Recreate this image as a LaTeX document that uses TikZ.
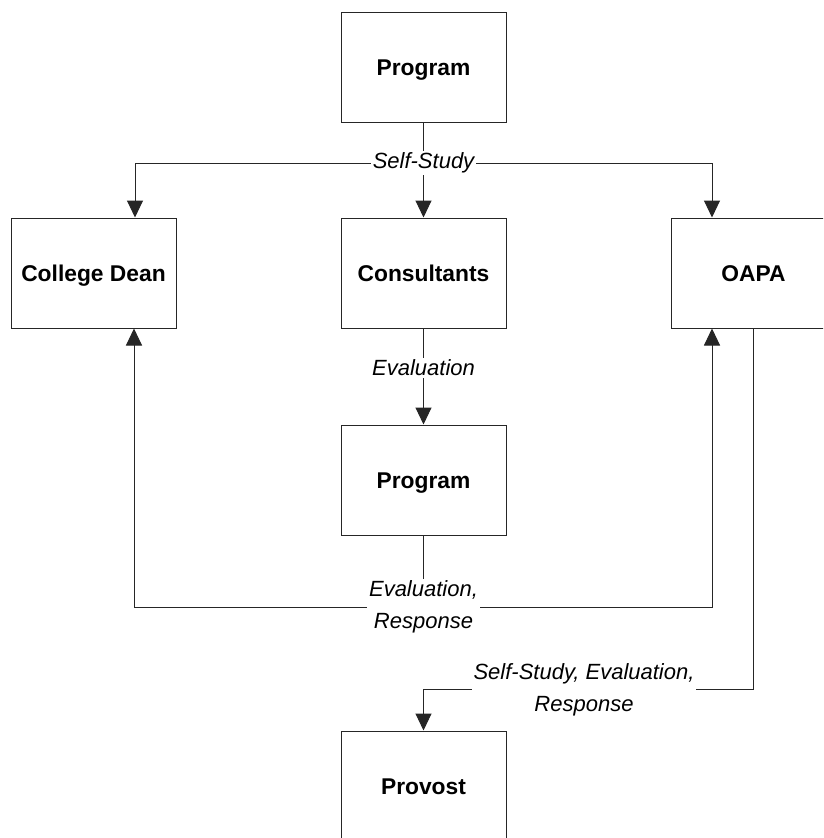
\documentclass[tikz,border=0pt]{standalone}
\usepackage{fontspec}
\setmainfont{Liberation Sans}
\usetikzlibrary{arrows.meta}
\begin{document}
\begin{tikzpicture}[x=1pt,y=-1pt,
  unit/.style={draw=black!85, line width=1pt, minimum width=165pt, minimum height=110pt,
    inner sep=0pt, text height=16.4pt, text depth=0pt,
    font=\fontsize{22.8}{27}\selectfont\bfseries},
  flow/.style={draw=black!85, line width=1pt},
  arr/.style={flow, -{Triangle[length=17pt,width=16pt]}},
  tag/.style={fill=white, inner sep=2pt, align=center,
    font=\fontsize{22}{32}\selectfont\itshape}]
\clip (0,0) rectangle (823,838);
\fill[white] (0,0) rectangle (823,838);

% units
\node[unit] (prog1)   at (423.5,67)  {Program};
\node[unit] (dean)    at (93.5,273)  {College Dean};
\node[unit] (cons)    at (423.5,273) {Consultants};
\node[unit] (oapa)    at (753.5,273) {OAPA};
\node[unit] (prog2)   at (423.5,480) {Program};
\node[unit] (provost) at (423.5,786) {Provost};

% self-study distribution
\coordinate (ss) at (423.5,163);
\draw[flow] (prog1.south) -- (ss);
\draw[arr] (ss) -| ([xshift=41.5pt]dean.north);
\draw[arr] (ss) -- (cons.north);
\draw[arr] (ss) -| ([xshift=-41.5pt]oapa.north);

% consultants' evaluation
\draw[arr] (cons.south) -- (prog2.north);

% evaluation and response
\coordinate (er) at (423.5,607);
\draw[flow] (prog2.south) -- (er);
\draw[arr] (er) -| ([xshift=40.5pt]dean.south);
\draw[arr] (er) -| ([xshift=-41.5pt]oapa.south);

% forwarding to the provost
\draw[arr] (oapa.south) |- ([yshift=41pt]provost.north) -- (provost.north);

% labels
\node[tag] (l1) at (423.5,163) {Self-Study};
\node[tag] (l2) at (423.5,368) {Evaluation};
\node[tag] (l3) at (423.5,607) {Evaluation,\\Response};
\node[tag] (l4) at (584,690) {Self-Study, Evaluation,\\Response};
\end{tikzpicture}
\end{document}
